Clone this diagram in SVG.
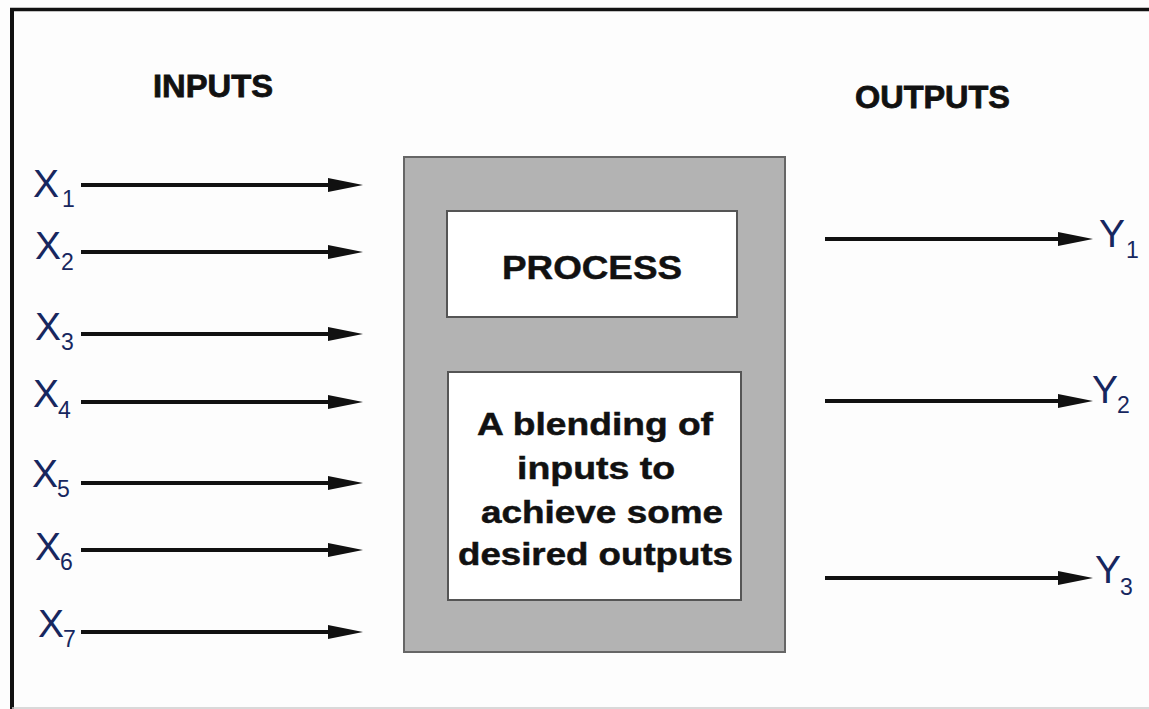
<svg xmlns="http://www.w3.org/2000/svg" width="1149" height="709" viewBox="0 0 1149 709">
  <style>
    .frame { stroke: #111; fill: none; }
    .head { font-family: "Liberation Sans", Arial, sans-serif; font-weight: bold; font-size: 32px; fill: #111; stroke: #111; stroke-width: 0.8; }
    .var { font-family: "Liberation Sans", Arial, sans-serif; font-size: 39px; fill: #17275f; }
    .sub { font-size: 23px; }
    .box-outer { fill: #b3b3b3; stroke: #666; stroke-width: 2; }
    .box-inner { fill: #fff; stroke: #555; stroke-width: 2; }
    .box-text { font-family: "Liberation Sans", Arial, sans-serif; font-weight: bold; fill: #111; stroke: #111; stroke-width: 0.5; }
    .conn line { stroke: #111; stroke-width: 4; marker-end: url(#arrow); }
  </style>
  <defs>
    <marker id="arrow" markerUnits="userSpaceOnUse" markerWidth="36" markerHeight="16" refX="12" refY="7" orient="auto">
      <path d="M0,0 L35,7 L0,14 z" fill="#111"/>
    </marker>
  </defs>

  <rect width="1149" height="709" fill="#fdfdfd"/>

  <!-- page frame -->
  <line class="frame" x1="10" y1="9.5" x2="1149" y2="9.5" stroke-width="3.5"/>
  <line class="frame" x1="12" y1="8" x2="12" y2="709" stroke-width="4"/>
  <line x1="12" y1="708" x2="1149" y2="708" stroke="#ccc" stroke-width="1.5"/>

  <!-- headings -->
  <text id="inputs-title" class="head" x="153" y="97" textLength="120" lengthAdjust="spacingAndGlyphs">INPUTS</text>
  <text id="outputs-title" class="head" x="855" y="108" textLength="155" lengthAdjust="spacingAndGlyphs">OUTPUTS</text>

  <!-- central process block -->
  <g id="process-block">
    <rect class="box-outer" x="404" y="157" width="381" height="495"/>
    <g id="process-title">
      <rect class="box-inner" x="447" y="211" width="290" height="106"/>
      <text class="box-text" x="502" y="279" font-size="34" textLength="180" lengthAdjust="spacingAndGlyphs">PROCESS</text>
    </g>
    <g id="process-description">
      <rect class="box-inner" x="448" y="372" width="293" height="228"/>
      <text class="box-text" font-size="32">
        <tspan x="477" y="435" textLength="236" lengthAdjust="spacingAndGlyphs">A blending of</tspan>
        <tspan x="517" y="479" textLength="158" lengthAdjust="spacingAndGlyphs">inputs to</tspan>
        <tspan x="481" y="523" textLength="242" lengthAdjust="spacingAndGlyphs">achieve some</tspan>
        <tspan x="458" y="565" textLength="275" lengthAdjust="spacingAndGlyphs">desired outputs</tspan>
      </text>
    </g>
  </g>

  <!-- input variables -->
  <g id="x1"><text class="var" x="33" y="197">X<tspan class="sub" x="62" y="207">1</tspan></text></g>
  <g id="x2"><text class="var" x="35" y="259">X<tspan class="sub" x="61" y="270">2</tspan></text></g>
  <g id="x3"><text class="var" x="35" y="340">X<tspan class="sub" x="61" y="350">3</tspan></text></g>
  <g id="x4"><text class="var" x="33" y="407">X<tspan class="sub" x="58" y="418">4</tspan></text></g>
  <g id="x5"><text class="var" x="32" y="487">X<tspan class="sub" x="57" y="497">5</tspan></text></g>
  <g id="x6"><text class="var" x="35" y="560">X<tspan class="sub" x="60" y="570">6</tspan></text></g>
  <g id="x7"><text class="var" x="38" y="637">X<tspan class="sub" x="63" y="647">7</tspan></text></g>

  <!-- output variables -->
  <g id="y1"><text class="var" x="1099" y="247">Y<tspan class="sub" x="1126" y="258">1</tspan></text></g>
  <g id="y2"><text class="var" x="1092" y="403">Y<tspan class="sub" x="1117" y="413">2</tspan></text></g>
  <g id="y3"><text class="var" x="1095" y="583">Y<tspan class="sub" x="1120" y="595">3</tspan></text></g>

  <!-- connectors -->
  <g id="connectors" class="conn">
    <line x1="81" y1="185" x2="340" y2="185"/>
    <line x1="81" y1="252" x2="340" y2="252"/>
    <line x1="81" y1="334" x2="340" y2="334"/>
    <line x1="81" y1="402" x2="340" y2="402"/>
    <line x1="81" y1="483" x2="340" y2="483"/>
    <line x1="81" y1="550" x2="340" y2="550"/>
    <line x1="81" y1="632" x2="340" y2="632"/>
    <line x1="825" y1="239" x2="1070" y2="239"/>
    <line x1="825" y1="401" x2="1070" y2="401"/>
    <line x1="825" y1="578" x2="1070" y2="578"/>
  </g>
</svg>
